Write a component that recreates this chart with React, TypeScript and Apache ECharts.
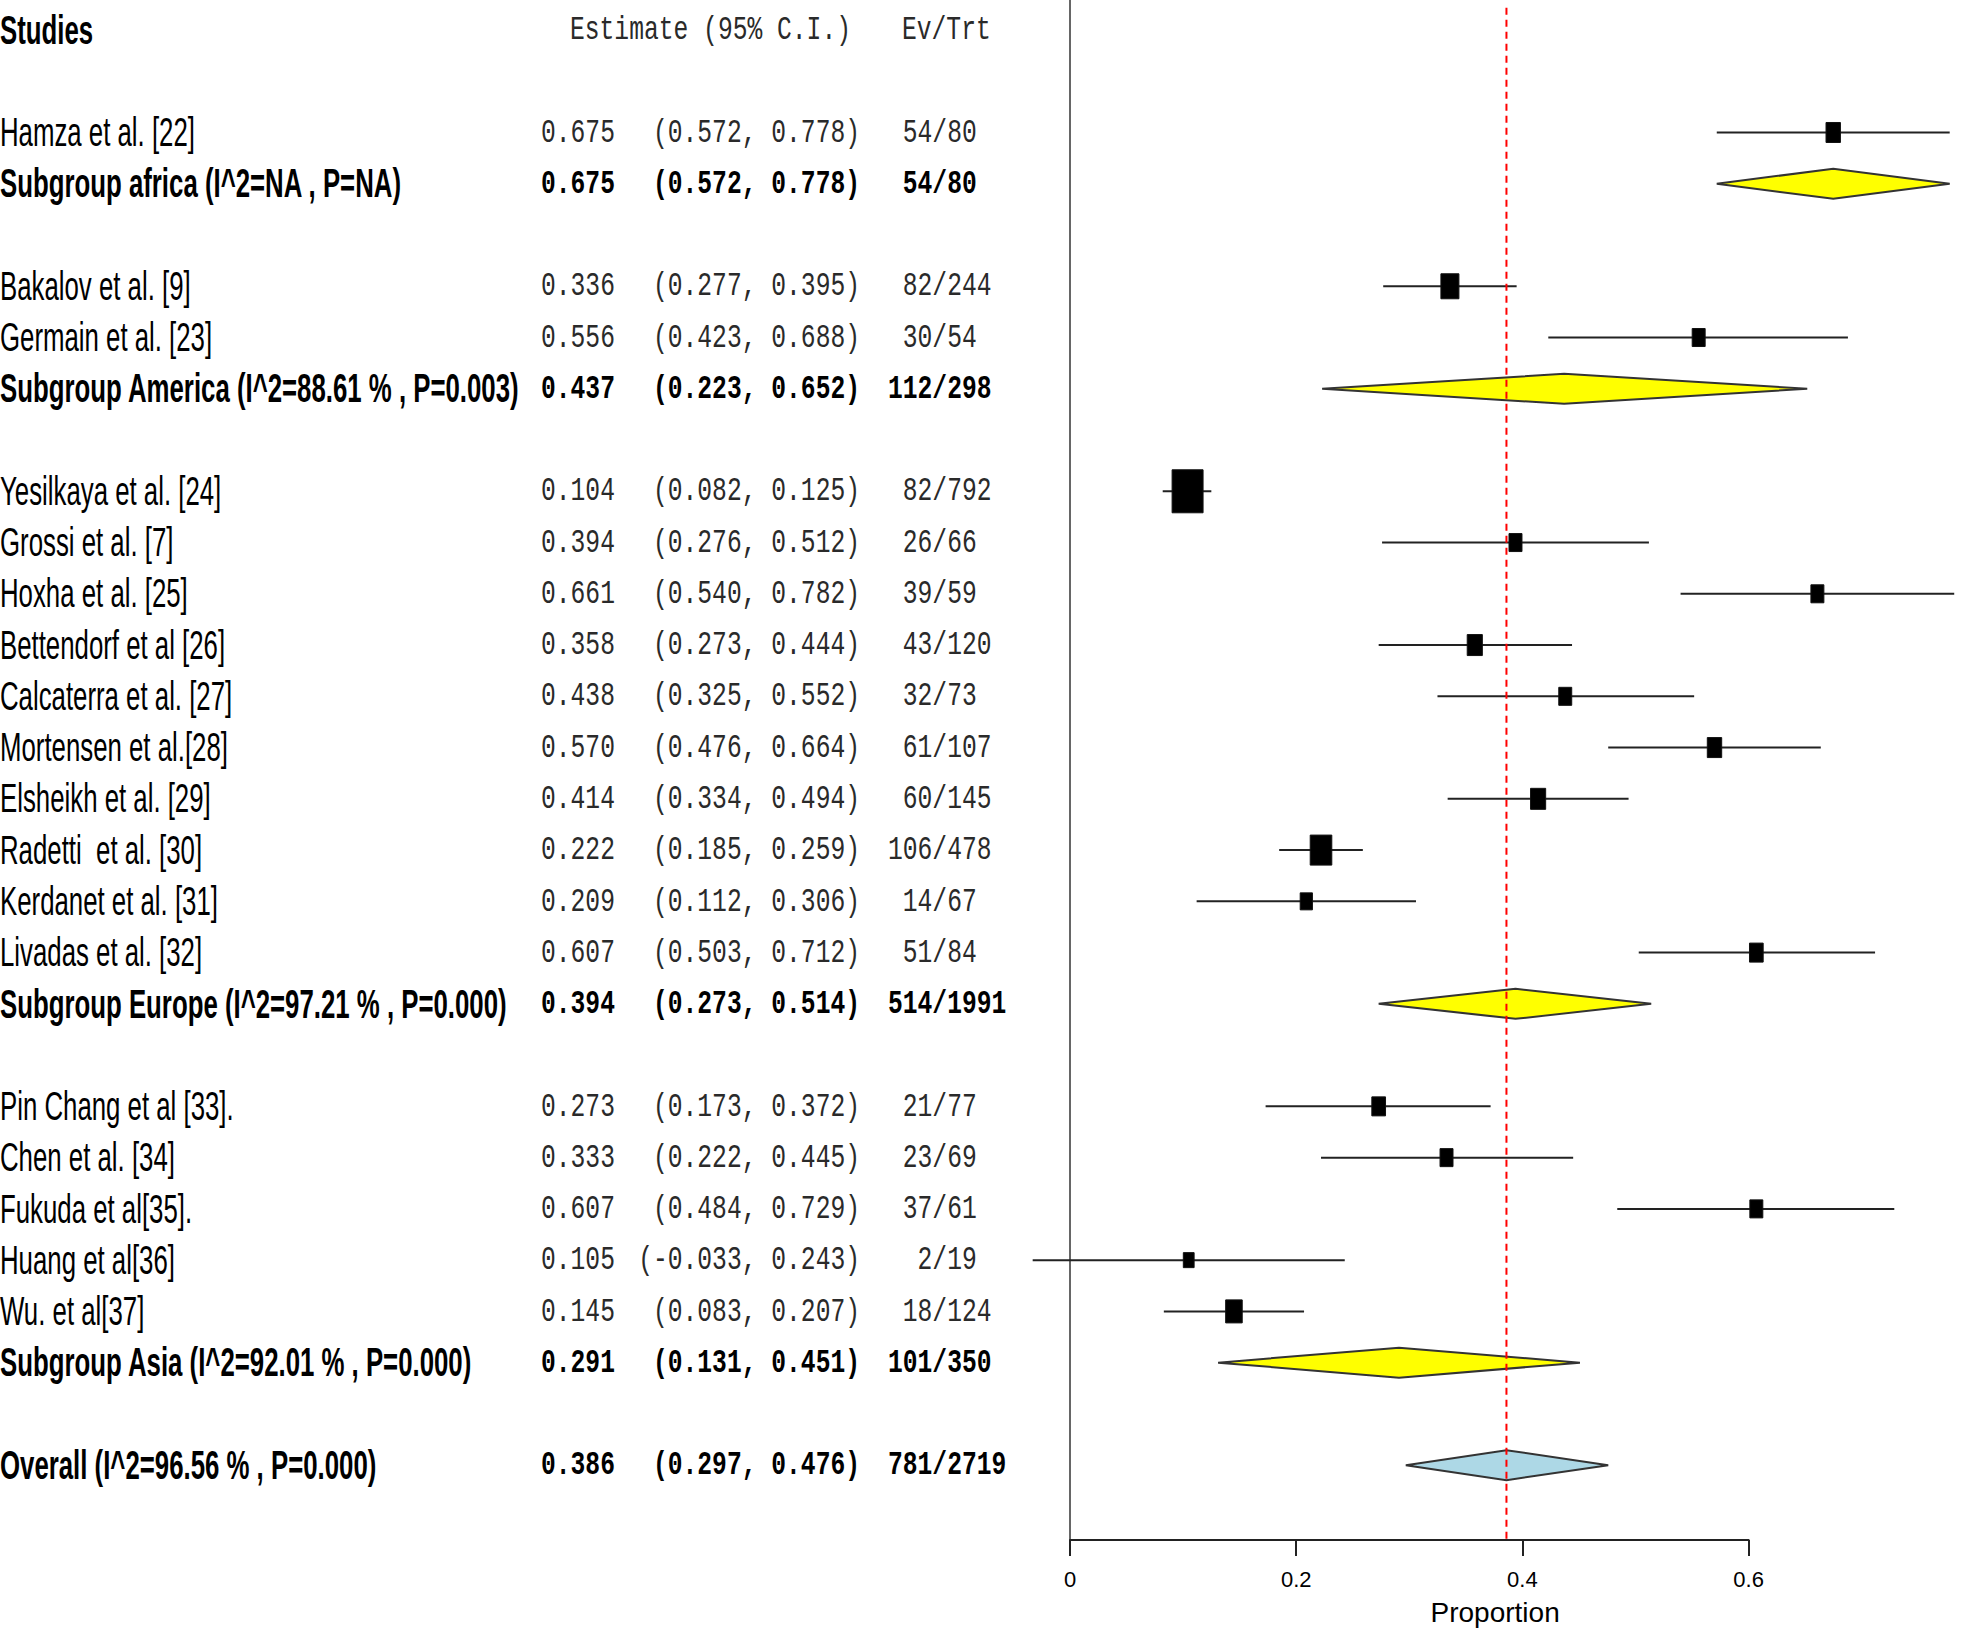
import React, { useEffect, useRef } from "react";
import * as echarts from "echarts";

// ---------- data ----------
const regions = ["africa", "America", "Europe", "Asia"];

const studyLabels = [
  "Hamza et al. [22]",
  "Bakalov et al. [9]",
  "Germain et al. [23]",
  "Yesilkaya et al. [24]",
  "Grossi et al. [7]",
  "Hoxha et al. [25]",
  "Bettendorf et al [26]",
  "Calcaterra et al. [27]",
  "Mortensen et al.[28]",
  "Elsheikh et al. [29]",
  "Radetti  et al. [30]",
  "Kerdanet et al. [31]",
  "Livadas et al. [32]",
  "Pin Chang et al [33].",
  "Chen et al. [34]",
  "Fukuda et al[35].",
  "Huang et al[36]",
  "Wu. et al[37]",
];
const studyRegion = [
  "africa",
  "America", "America",
  "Europe", "Europe", "Europe", "Europe", "Europe", "Europe", "Europe", "Europe", "Europe", "Europe",
  "Asia", "Asia", "Asia", "Asia", "Asia",
];
const studyEst = [0.675, 0.336, 0.556, 0.104, 0.394, 0.661, 0.358, 0.438, 0.570, 0.414, 0.222, 0.209, 0.607, 0.273, 0.333, 0.607, 0.105, 0.145];
const studyLower = [0.572, 0.277, 0.423, 0.082, 0.276, 0.540, 0.273, 0.325, 0.476, 0.334, 0.185, 0.112, 0.503, 0.173, 0.222, 0.484, -0.033, 0.083];
const studyUpper = [0.778, 0.395, 0.688, 0.125, 0.512, 0.782, 0.444, 0.552, 0.664, 0.494, 0.259, 0.306, 0.712, 0.372, 0.445, 0.729, 0.243, 0.207];
const studyEvents = [54, 82, 30, 82, 26, 39, 43, 32, 61, 60, 106, 14, 51, 21, 23, 37, 2, 18];
const studyTotals = [80, 244, 54, 792, 66, 59, 120, 73, 107, 145, 478, 67, 84, 77, 69, 61, 19, 124];
// relative study weight (marker size)
const studyWeight = [20, 25, 18, 43, 18, 18, 21, 18, 20, 21, 30, 17, 19, 19, 18, 18, 15, 23];

const subgroupLabels = [
  "Subgroup africa (I^2=NA , P=NA)",
  "Subgroup America (I^2=88.61 % , P=0.003)",
  "Subgroup Europe (I^2=97.21 % , P=0.000)",
  "Subgroup Asia (I^2=92.01 % , P=0.000)",
];
const subgroupEst = [0.675, 0.437, 0.394, 0.291];
const subgroupLower = [0.572, 0.223, 0.273, 0.131];
const subgroupUpper = [0.778, 0.652, 0.514, 0.451];
const subgroupEvents = [54, 112, 514, 101];
const subgroupTotals = [80, 298, 1991, 350];

const overallLabel = "Overall (I^2=96.56 % , P=0.000)";
const overallEst = 0.386;
const overallLower = 0.297;
const overallUpper = 0.476;
const overallEvents = 781;
const overallTotal = 2719;

const headerLabels = ["Studies", "Estimate (95% C.I.)", "Ev/Trt"];
const xTicks = [0, 0.2, 0.4, 0.6];
const xTitle = "Proportion";

// ---------- rows ----------
type Row = {
  kind: "header" | "study" | "subgroup" | "overall";
  row: number;
  label: string;
  est: number;
  lo: number;
  hi: number;
  ev: number;
  n: number;
  w: number;
};

function buildRows(): Row[] {
  const rows: Row[] = [];
  rows.push({ kind: "header", row: 0, label: headerLabels[0], est: 0, lo: 0, hi: 0, ev: 0, n: 0, w: 0 });
  let r = 2;
  regions.forEach((g, gi) => {
    studyLabels.forEach((lab, i) => {
      if (studyRegion[i] !== g) return;
      rows.push({
        kind: "study", row: r++, label: lab, est: studyEst[i], lo: studyLower[i], hi: studyUpper[i],
        ev: studyEvents[i], n: studyTotals[i], w: studyWeight[i],
      });
    });
    rows.push({
      kind: "subgroup", row: r++, label: subgroupLabels[gi], est: subgroupEst[gi], lo: subgroupLower[gi],
      hi: subgroupUpper[gi], ev: subgroupEvents[gi], n: subgroupTotals[gi], w: 0,
    });
    r++;
  });
  rows.push({
    kind: "overall", row: r, label: overallLabel, est: overallEst, lo: overallLower, hi: overallUpper,
    ev: overallEvents, n: overallTotal, w: 0,
  });
  return rows;
}

const SANS = "'Liberation Sans', Arial, sans-serif";
const MONO = "'Liberation Mono', 'Courier New', monospace";
const SANS_SIZE = 40;
const SANS_SCALE = 0.645;
const MONO_SIZE = 34;
const MONO_SCALE = 0.725;
const CHAR_W = MONO_SIZE * 0.6 * MONO_SCALE;

const COL_EST = 541;
const COL_CI_RIGHT = 860;
const COL_EV = 888;
const COL_HEAD_EST = 570;
const COL_HEAD_EV = 902;

function sansText(text: string, x: number, y: number, bold: boolean) {
  return {
    type: "text",
    x,
    y,
    scaleX: SANS_SCALE,
    silent: true,
    style: {
      text,
      fontSize: SANS_SIZE,
      fontFamily: SANS,
      fontWeight: bold ? "bold" : "normal",
      fill: "#000",
      align: "left",
      verticalAlign: "middle",
    },
  };
}

function monoText(text: string, x: number, y: number, bold: boolean, align: string = "left") {
  return {
    type: "text",
    x,
    y,
    scaleX: MONO_SCALE,
    silent: true,
    style: {
      text,
      fontSize: MONO_SIZE,
      fontFamily: MONO,
      fontWeight: bold ? "bold" : "normal",
      fill: bold ? "#000" : "#2a2a2a",
      align,
      verticalAlign: "middle",
    },
  };
}

const f3 = (v: number) => v.toFixed(3);

export default function App() {
  const ref = useRef<HTMLDivElement>(null);

  useEffect(() => {
    if (!ref.current) return;
    const chart = echarts.init(ref.current, null, { renderer: "svg" });
    const rows = buildRows();
    const yMin = -0.585;
    const yMax = 29.46;
    const xMin = -0.036;
    const xMax = 0.788;
    const unit = 1131;
    const zeroX = 1070;
    const gridBottom = 98;

    const renderItem = (params: any, api: any) => {
      const row = rows[params.dataIndex];
      const y = api.coord([0, row.row])[1];
      const px = (v: number) => api.coord([v, row.row])[0];
      const children: any[] = [];
      if (row.kind === "header") {
        children.push(sansText(headerLabels[0], 0, y, true));
        children.push(monoText(headerLabels[1], COL_HEAD_EST, y, false));
        children.push(monoText(headerLabels[2], COL_HEAD_EV, y, false));
        return { type: "group", children };
      }
      const bold = row.kind !== "study";
      children.push(sansText(row.label, 0, y, bold));
      children.push(monoText(f3(row.est), COL_EST, y, bold));
      children.push(monoText(`(${f3(row.lo)}, ${f3(row.hi)})`, COL_CI_RIGHT, y, bold, "right"));
      const pad = Math.max(0, 3 - String(row.ev).length);
      children.push(monoText(`${row.ev}/${row.n}`, COL_EV + pad * CHAR_W, y, bold));

      if (row.kind === "study") {
        children.push({
          type: "line",
          silent: true,
          shape: { x1: px(row.lo), y1: y, x2: px(row.hi), y2: y },
          style: { stroke: "#222", lineWidth: 2 },
        });
        const h = row.w;
        const w = h * 0.72;
        children.push({
          type: "rect",
          silent: true,
          shape: { x: px(row.est) - w / 2, y: y - h / 2, width: w, height: h },
          style: { fill: "#000", stroke: "#111", lineWidth: 1 },
        });
      } else {
        const half = 15;
        children.push({
          type: "polygon",
          silent: true,
          shape: {
            points: [
              [px(row.lo), y],
              [px(row.est), y - half],
              [px(row.hi), y],
              [px(row.est), y + half],
            ],
          },
          style: {
            fill: row.kind === "overall" ? "#add8e6" : "#ffff00",
            stroke: "#333",
            lineWidth: 2,
          },
        });
      }
      if (row.kind === "overall") {
        const top = api.coord([overallEst, yMin + 0.15]);
        const bot = api.coord([overallEst, yMax]);
        children.push({
          type: "line",
          silent: true,
          shape: { x1: top[0], y1: top[1], x2: bot[0], y2: bot[1] },
          style: { stroke: "#ff0000", lineWidth: 2, lineDash: [7, 5] },
        });
      }
      return { type: "group", children };
    };

    const option: any = {
      animation: false,
      backgroundColor: "#ffffff",
      grid: [
        {
          left: zeroX + xMin * unit,
          width: (xMax - xMin) * unit,
          top: 0,
          bottom: gridBottom,
          containLabel: false,
        },
        {
          left: zeroX,
          width: xTicks[xTicks.length - 1] * unit,
          top: 0,
          bottom: gridBottom,
          containLabel: false,
        },
      ],
      xAxis: [
        {
          type: "value",
          gridIndex: 0,
          min: xMin,
          max: xMax,
          axisLine: { show: false, onZero: false },
          axisTick: { show: false },
          axisLabel: { show: false },
          splitLine: { show: false },
          name: xTitle,
          nameLocation: "middle",
          nameGap: 58,
          nameTextStyle: { fontSize: 28, fontFamily: SANS, color: "#000" },
        },
        {
          type: "value",
          gridIndex: 1,
          min: xTicks[0],
          max: xTicks[xTicks.length - 1],
          interval: 0.2,
          axisLine: { show: true, onZero: false, lineStyle: { color: "#222", width: 2 } },
          axisTick: { show: true, length: 16, lineStyle: { color: "#222", width: 2 } },
          axisLabel: {
            show: true,
            margin: 28,
            fontSize: 22,
            fontFamily: SANS,
            color: "#000",
            formatter: (v: number) => String(Math.round(v * 10) / 10),
          },
          splitLine: { show: false },
        },
      ],
      yAxis: [
        {
          type: "value",
          gridIndex: 0,
          inverse: true,
          min: yMin,
          max: yMax,
          axisLine: { show: true, onZero: true, lineStyle: { color: "#333", width: 1.5 } },
          axisTick: { show: false },
          axisLabel: { show: false },
          splitLine: { show: false },
        },
        {
          type: "value",
          gridIndex: 1,
          min: 0,
          max: 1,
          show: false,
        },
      ],
      series: [
        {
          type: "custom",
          xAxisIndex: 0,
          yAxisIndex: 0,
          clip: false,
          silent: true,
          renderItem,
          encode: { x: 0, y: 1 },
          data: rows.map((r) => [r.kind === "header" ? 0 : r.est, r.row]),
        },
        {
          type: "scatter",
          xAxisIndex: 1,
          yAxisIndex: 1,
          data: [],
          silent: true,
        },
      ],
    };
    chart.setOption(option);
    return () => chart.dispose();
  }, []);

  return (
    <div
      ref={ref}
      style={{ position: "fixed", left: 0, top: 0, width: 1961, height: 1638, background: "#fff" }}
    />
  );
}
